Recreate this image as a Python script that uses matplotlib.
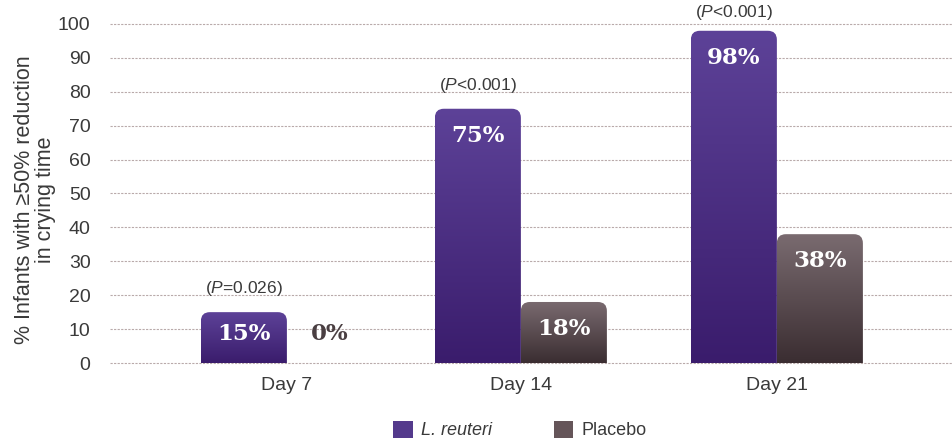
import numpy as np
import matplotlib
matplotlib.use("Agg")
import matplotlib.pyplot as plt
from matplotlib.patches import FancyBboxPatch, Patch
from matplotlib.colors import LinearSegmentedColormap

# ---- data ----
days = ["Day 7", "Day 14", "Day 21"]
reuteri = [15, 75, 98]
placebo = [0, 18, 38]
p_labels = ["=0.026", "<0.001", "<0.001"]
series_names = ["L. reuteri", "Placebo"]
yticks = list(range(0, 101, 10))

# ---- style ----
plt.rcParams['font.family'] = ['Liberation Sans', 'DejaVu Sans']
plt.rcParams['mathtext.fontset'] = 'custom'
plt.rcParams['mathtext.it'] = 'Liberation Sans:italic'
plt.rcParams['mathtext.rm'] = 'Liberation Sans'
TXT = '#3a3a3a'
purple_cm = LinearSegmentedColormap.from_list('p', ['#3a1c6c', '#5d4298'])
grey_cm = LinearSegmentedColormap.from_list('g', ['#3a2d31', '#7a6b70'])

group_pos = [0.0, 0.914, 1.914]   # layout positions of the groups
width = 0.336
xlim = (-0.691, 2.602)
ylim = (0, 100)

fig = plt.figure(figsize=(9.53, 4.42), dpi=100)
ax = fig.add_axes([110/953, 1-363/442, 843/953, 339/442])

ax_w_px = 843
ax_h_px = 339
px_per_x = ax_w_px / (xlim[1]-xlim[0])
px_per_y = ax_h_px / (ylim[1]-ylim[0])
r = 9 / px_per_x
aspect = px_per_x / px_per_y

grad = np.linspace(0, 1, 256).reshape(-1, 1)

def draw_bar(xc, h, cmap):
    if h <= 0:
        return
    x0 = xc - width/2
    patch = FancyBboxPatch((x0, -5), width, h + 5,
                           boxstyle=f"round,pad=0,rounding_size={r}",
                           mutation_aspect=aspect, facecolor='none',
                           edgecolor='none', transform=ax.transData)
    ax.add_patch(patch)
    im = ax.imshow(grad, extent=[x0, x0+width, 0, h], origin='lower',
                   aspect='auto', cmap=cmap, zorder=2, interpolation='bilinear')
    im.set_clip_path(patch)

for i, g in enumerate(group_pos):
    xr = g - width/2
    xp = g + width/2
    draw_bar(xr, reuteri[i], purple_cm)
    draw_bar(xp, placebo[i], grey_cm)
    ax.text(xr, max(reuteri[i], 16.5) - 8, f"{reuteri[i]}%", ha='center', va='center',
            color='white', fontsize=16.5, fontweight='bold', family='DejaVu Serif', zorder=3)
    pc = 'white' if placebo[i] > 0 else '#4a3f42'
    ax.text(xp, max(placebo[i], 16.5) - 8, f"{placebo[i]}%", ha='center', va='center',
            color=pc, fontsize=16.5, fontweight='bold', family='DejaVu Serif', zorder=3)
    ax.text(xr, min(reuteri[i] + 7, 103.5), r"($\mathit{P}$" + p_labels[i] + ")",
            ha='center', va='center', color=TXT, fontsize=12.5, clip_on=False, zorder=3)

ax.set_xlim(*xlim)
ax.set_ylim(*ylim)
ax.set_yticks(yticks)
ax.set_xticks(group_pos)
ax.set_xticklabels(days)
ax.tick_params(axis='both', length=0, labelsize=14, colors=TXT)
ax.tick_params(axis='y', pad=14)
ax.tick_params(axis='x', pad=10)
for s in ax.spines.values():
    s.set_visible(False)
ax.yaxis.grid(True, linestyle=(0, (2, 1.2)), color='#b9aaaa', linewidth=0.8)
ax.set_axisbelow(True)
for gl in ax.get_ygridlines():
    gl.set_clip_on(False)

fig.text(35/953, 1-200/442, "% Infants with \u226550% reduction\nin crying time",
         rotation=90, ha='center', va='center', fontsize=15.5, color=TXT, linespacing=1.05)

handles = [Patch(facecolor='#543a8c', edgecolor='none'),
           Patch(facecolor='#655559', edgecolor='none')]
leg = fig.legend(handles, series_names, loc='center', bbox_to_anchor=(520/953, 1-430/442),
                 ncol=2, frameon=False, fontsize=13, handlelength=1.1, handleheight=1.1,
                 handletextpad=0.45, columnspacing=3.4)
for t in leg.get_texts():
    t.set_color(TXT)
leg.get_texts()[0].set_fontstyle('italic')

fig.savefig("out.png", dpi=100)
